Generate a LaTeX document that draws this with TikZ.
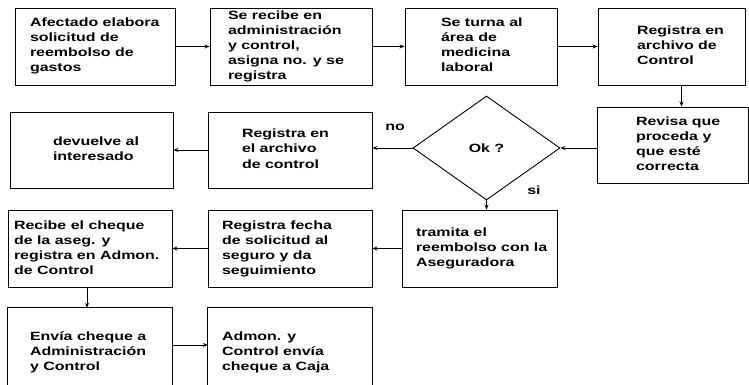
\documentclass[tikz,border=0pt]{standalone}
\usepackage{fontspec}
\newfontfamily\flowfont{Liberation Sans}[FakeStretch=1.33]
\usetikzlibrary{arrows.meta,shapes.geometric}
\newcommand{\boxlines}[2]{\makebox[#1][l]{\begin{tabular}{@{}l@{}}#2\end{tabular}}}
\tikzset{
  stepbox/.style={draw,line width=0.9pt,inner sep=0pt,minimum height=77pt},
  openbox/.style={inner sep=0pt,minimum height=88pt,minimum width=164pt},
  flow/.style={-{Stealth[length=5pt,width=4pt]},line width=0.8pt},
  every node/.style={font=\flowfont\bfseries\fontsize{12}{15}\selectfont}
}

\begin{document}
\begin{tikzpicture}[x=1pt,y=-1pt]
\useasboundingbox (0,0) rectangle (749,385);
\clip (0,0) rectangle (749,385);
% primera fila
\node[stepbox,minimum width=160pt] (afectado) at (95,46.5) {\boxlines{130pt}{Afectado elabora\\solicitud de\\reembolso de\\gastos}};
\node[stepbox,minimum width=162pt] (recibe) at (291,46.5) {\boxlines{126pt}{Se recibe en\\administración\\y control,\\asigna no. y se\\registra}};
\node[stepbox,minimum width=152pt] (turna) at (481,46.5) {\boxlines{80pt}{Se turna al\\área de\\medicina\\laboral}};
\node[stepbox,minimum width=147pt] (archivo) at (671.5,46.5) {\boxlines{69pt}{Registra en\\archivo de\\Control}};
% segunda fila
\node[stepbox,minimum width=151pt,minimum height=76pt] (revisa) at (672.5,145) {\boxlines{73pt}{Revisa que\\proceda y\\que esté\\correcta}};
\node[draw,diamond,line width=0.9pt,inner sep=0pt,minimum width=147pt,minimum height=104pt] (ok) at (486.5,148) {Ok ?};
\node[stepbox,minimum width=164pt,minimum height=76pt] (regctrl) at (290,150) {\boxlines{96pt}{Registra en\\el archivo\\de control}};
\node[stepbox,minimum width=163pt,minimum height=76pt] (devuelve) at (91.5,150) {\boxlines{77pt}{devuelve al\\interesado}};
% tercera fila
\node[stepbox,minimum width=155pt] (tramita) at (479.5,248.5) {\boxlines{127pt}{tramita el\\reembolso con la\\Aseguradora}};
\node[stepbox,minimum width=164pt] (fecha) at (290,248.5) {\boxlines{136pt}{Registra fecha\\de solicitud al\\seguro y da\\seguimiento}};
\node[stepbox,minimum width=164pt] (cheque) at (90,248.5) {\boxlines{152pt}{Recibe el cheque\\de la aseg. y\\registra en Admon.\\de Control}};
% cuarta fila
\node[openbox] (envia) at (90,352) {\boxlines{120pt}{Envía cheque a\\Administración\\y Control}};
\node[openbox] (caja) at (290,352) {\boxlines{136pt}{Admon. y\\Control envía\\cheque a Caja}};
\draw[line width=0.9pt] (envia.south west) -- (envia.north west) -- (envia.north east) -- (envia.south east);
\draw[line width=0.9pt] (caja.south west) -- (caja.north west) -- (caja.north east) -- (caja.south east);
% etiquetas
\node (no) at (395,127) {no};
\node (si) at (534,190) {si};
% flechas
\draw[flow] (afectado) -- (recibe);
\draw[flow] (recibe) -- (turna);
\draw[flow] (turna) -- (archivo);
\draw[flow] ([xshift=10pt]archivo.south) -- ([xshift=10pt]archivo.south |- revisa.north);
\draw[flow] (ok.east -| revisa.west) -- (ok.east);
\draw[flow] (ok.west) -- (ok.west -| regctrl.east);
\draw[flow] (regctrl) -- (devuelve);
\draw[flow] (ok.south) -- (ok.south |- tramita.north);
\draw[flow] (tramita) -- (fecha);
\draw[flow] (fecha) -- (cheque);
\draw[flow] ([xshift=-3pt]cheque.south) -- ([xshift=-3pt]envia.north);
\draw[flow] ([yshift=7pt]envia.east) -- ([yshift=7pt]caja.west);
\end{tikzpicture}
\end{document}
